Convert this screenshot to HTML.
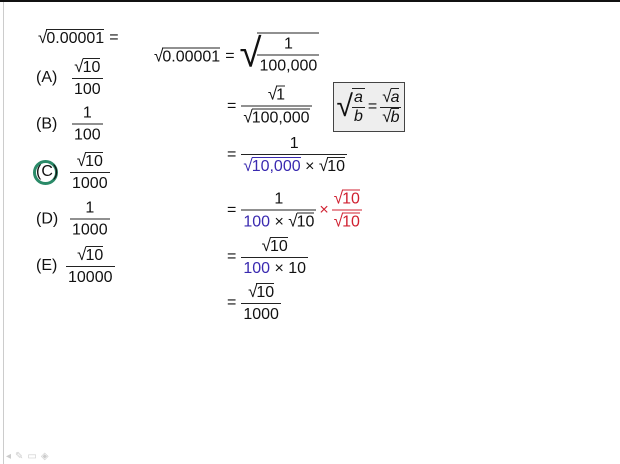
<!DOCTYPE html>
<html><head><meta charset="utf-8"><style>
body{margin:0;width:620px;height:464px;background:#fff;position:relative;overflow:hidden;font-family:"Liberation Sans",sans-serif;font-size:16px;color:#111}
.a{position:absolute;transform:translateY(-50%);white-space:nowrap;display:flex;align-items:center}
.frac{display:inline-flex;flex-direction:column;align-items:center;line-height:21px}
.frac>span{padding:0 2px}
.den{border-top:1px solid #222}
.ov{border-top:1px solid #222;padding-top:1px;line-height:16px;display:inline-block}
.rt{font-size:17px;margin-right:-1px}
.blue{color:#3a2ab0}.blue .ov{border-color:#3a2ab0}
.red{color:#d02030}.red .ov{border-color:#d02030}.red.den{border-color:#d02030}
.eq{margin:0 5px}
</style></head><body>
<div style="position:absolute;left:0;top:0;width:620px;height:2px;background:#111"></div>
<div style="position:absolute;left:3px;top:2px;width:1px;height:462px;background:#ccc"></div>

<div class="a" style="left:38px;top:38px"><span class="rt">√</span><span class="ov">0.00001</span><span class="eq">=</span></div>

<div class="a" style="left:36px;top:78px"><span style="width:36px">(A)</span><span class="frac"><span><span class="rt">√</span><span class="ov">10</span></span><span class="den">100</span></span></div>
<div class="a" style="left:36px;top:124px"><span style="width:36px">(B)</span><span class="frac"><span>1</span><span class="den">100</span></span></div>
<div style="position:absolute;left:33px;top:160px;width:19px;height:19px;border:3px solid #2a8a68;border-radius:50%"></div>
<div class="a" style="left:36px;top:172px"><span style="width:34px">(C)</span><span class="frac"><span><span class="rt">√</span><span class="ov">10</span></span><span class="den">1000</span></span></div>
<div class="a" style="left:36px;top:219px"><span style="width:34px">(D)</span><span class="frac"><span>1</span><span class="den">1000</span></span></div>
<div class="a" style="left:36px;top:266px"><span style="width:30px">(E)</span><span class="frac"><span><span class="rt">√</span><span class="ov">10</span></span><span class="den">10000</span></span></div>

<div class="a" style="left:154px;top:56px"><span class="rt">√</span><span class="ov">0.00001</span><span class="eq">=</span><span class="rt" style="font-size:40px;font-weight:100;margin-top:-4px">√</span><span class="frac" style="border-top:1px solid #222;margin-top:-4px;margin-left:-3px"><span>1</span><span class="den">100,000</span></span></div>

<div class="a" style="left:222px;top:106px"><span class="eq">=</span><span class="frac"><span><span class="rt">√</span><span class="ov">1</span></span><span class="den"><span class="rt">√</span><span class="ov">100,000</span></span></span></div>

<div style="position:absolute;left:333px;top:82px;width:70px;height:48px;background:#eee;border:1px solid #444;display:flex;align-items:center;justify-content:center;font-style:italic">
<span class="rt" style="font-size:30px;font-style:normal">√</span><span class="frac" style="border-top:1px solid #222;line-height:18px"><span>a</span><span class="den">b</span></span><span class="eq" style="font-style:normal;margin:0 3px">=</span><span class="frac" style="line-height:18px"><span><span class="rt" style="font-style:normal">√</span><span class="ov">a</span></span><span class="den"><span class="rt" style="font-style:normal">√</span><span class="ov">b</span></span></span></div>

<div class="a" style="left:222px;top:155px"><span class="eq">=</span><span class="frac"><span>1</span><span class="den"><span class="blue"><span class="rt">√</span><span class="ov">10,000</span></span> × <span class="rt">√</span><span class="ov">10</span></span></span></div>

<div class="a" style="left:222px;top:210px"><span class="eq">=</span><span class="frac"><span>1</span><span class="den"><span class="blue">100</span> × <span class="rt">√</span><span class="ov">10</span></span></span><span class="red" style="margin:0 3px">×</span><span class="frac red"><span><span class="rt">√</span><span class="ov">10</span></span><span class="den red"><span class="rt">√</span><span class="ov">10</span></span></span></div>

<div class="a" style="left:222px;top:257px"><span class="eq">=</span><span class="frac"><span><span class="rt">√</span><span class="ov">10</span></span><span class="den"><span class="blue">100</span> × 10</span></span></div>

<div class="a" style="left:222px;top:303px"><span class="eq">=</span><span class="frac"><span><span class="rt">√</span><span class="ov">10</span></span><span class="den">1000</span></span></div>

<div style="position:absolute;left:6px;top:451px;color:#ccc;font-size:10px;letter-spacing:4px">◂✎▭◈</div>
</body></html>
